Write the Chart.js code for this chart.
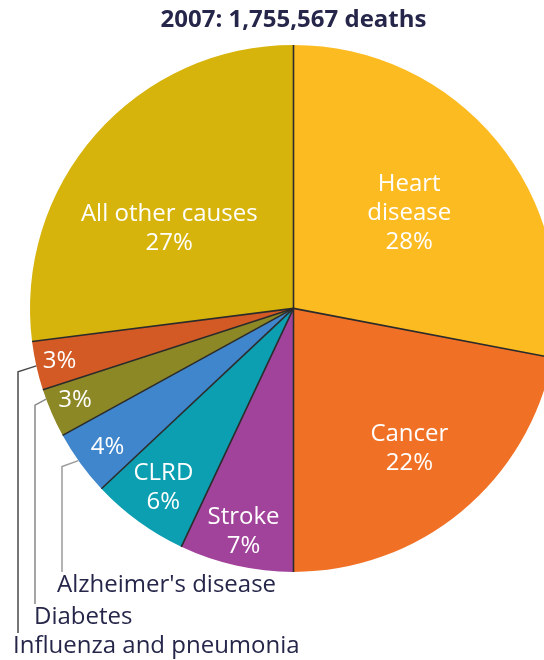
<!DOCTYPE html>
<html>
<head>
<meta charset="utf-8">
<script src="https://cdn.jsdelivr.net/npm/chart.js@4"></script>
<style>
  html, body { margin: 0; padding: 0; background: #fff; overflow: hidden; width: 544px; height: 660px; }
  #wrap { position: absolute; left: 0; top: 0; width: 600px; height: 660px; }
</style>
</head>
<body>
<div id="wrap"><canvas id="deathsChart" width="600" height="660"></canvas></div>
<script>
// data, clockwise from 12 o'clock
var causes = ["Heart disease", "Cancer", "Stroke", "CLRD", "Alzheimer's disease", "Diabetes", "Influenza and pneumonia", "All other causes"];
var percents = [28, 22, 7, 6, 4, 3, 3, 27];
var sliceColors = ['#fdbb22', '#f07126', '#a1439b', '#0c9fb1', '#3f86cc', '#8d8826', '#d35a24', '#d7b40c'];
// text shown inside each slice (empty name = only the percent)
var insideNames = [["Heart", "disease"], ["Cancer"], ["Stroke"], ["CLRD"], [], [], [], ["All other causes"]];
var titleText = "2007: 1,755,567 deaths";

// where the inside label sits: [fraction along the slice, fraction of radius]
var labelSpots = [[0.5, 0.57], [0.5, 0.69], [0.5, 0.87], [0.5, 0.84], [0.45, 0.88], [0.55, 0.9], [0.5, 0.91], [0.41, 0.56]];
// callouts for the small slices: index, fraction along slice, line x, text x, text baseline, line colour
var callouts = [
    [4, 0.55, 62, 57, 592, '#9a9a9a'],
    [5, 0.8, 35, 34, 624, '#888888'],
    [6, 0.5, 18, 13, 653, '#4a4a4a']
];

var sliceLabels = {
    id: 'sliceLabels',
    afterDatasetsDraw: function(chart) {
        var ctx = chart.ctx;
        var arcs = chart.getDatasetMeta(0).data;
        // dark separator lines between slices (no outline on the rim)
        ctx.save();
        ctx.strokeStyle = '#2b2b2b';
        ctx.lineWidth = 1.6;
        arcs.forEach(function(a) {
            ctx.beginPath();
            ctx.moveTo(a.x, a.y);
            ctx.lineTo(a.x + a.outerRadius * Math.cos(a.startAngle), a.y + a.outerRadius * Math.sin(a.startAngle));
            ctx.stroke();
        });

        ctx.fillStyle = '#ffffff';
        ctx.font = '24px "Open Sans"';
        ctx.textAlign = 'center';
        ctx.textBaseline = 'middle';
        arcs.forEach(function(a, i) {
            var spot = labelSpots[i];
            var ang = a.startAngle + (a.endAngle - a.startAngle) * spot[0];
            var r = a.outerRadius * spot[1];
            var cx = a.x + r * Math.cos(ang);
            var cy = a.y + r * Math.sin(ang);
            var lines = insideNames[i].concat([percents[i] + '%']);
            var lh = 29;
            var y0 = cy - (lines.length - 1) * lh / 2;
            lines.forEach(function(t, k) {
                ctx.fillText(t, cx, y0 + k * lh);
            });
        });

        // callout lines and names under the pie
        ctx.textAlign = 'left';
        ctx.textBaseline = 'alphabetic';
        ctx.font = '24px "Open Sans"';
        callouts.forEach(function(c) {
            var a = arcs[c[0]];
            var ang = a.startAngle + (a.endAngle - a.startAngle) * c[1];
            var sx = a.x + a.outerRadius * Math.cos(ang);
            var sy = a.y + a.outerRadius * Math.sin(ang);
            ctx.strokeStyle = c[5];
            ctx.lineWidth = 1.5;
            ctx.beginPath();
            ctx.moveTo(sx, sy);
            ctx.lineTo(c[2], sy + 6);
            ctx.lineTo(c[2], c[4] - 20);
            ctx.stroke();
            ctx.fillStyle = '#26264a';
            ctx.fillText(causes[c[0]], c[3], c[4]);
        });
        ctx.restore();
    }
};

var ctx = document.getElementById('deathsChart').getContext('2d');
var pieChart = new Chart(ctx, {
    type: 'pie',
    data: {
        labels: causes,
        datasets: [{
            data: percents,
            backgroundColor: sliceColors,
            borderWidth: 0
        }]
    },
    options: {
        responsive: false,
        animation: false,
        devicePixelRatio: 1,
        layout: { padding: { left: 30, right: 43, top: 0, bottom: 88 } },
        plugins: {
            legend: { display: false },
            tooltip: { enabled: false },
            title: {
                display: true,
                text: titleText,
                color: '#26264a',
                font: { family: 'Open Sans', size: 24, weight: 'bold' },
                padding: { top: 6, bottom: 10 }
            }
        }
    },
    plugins: [sliceLabels]
});
</script>
</body>
</html>
